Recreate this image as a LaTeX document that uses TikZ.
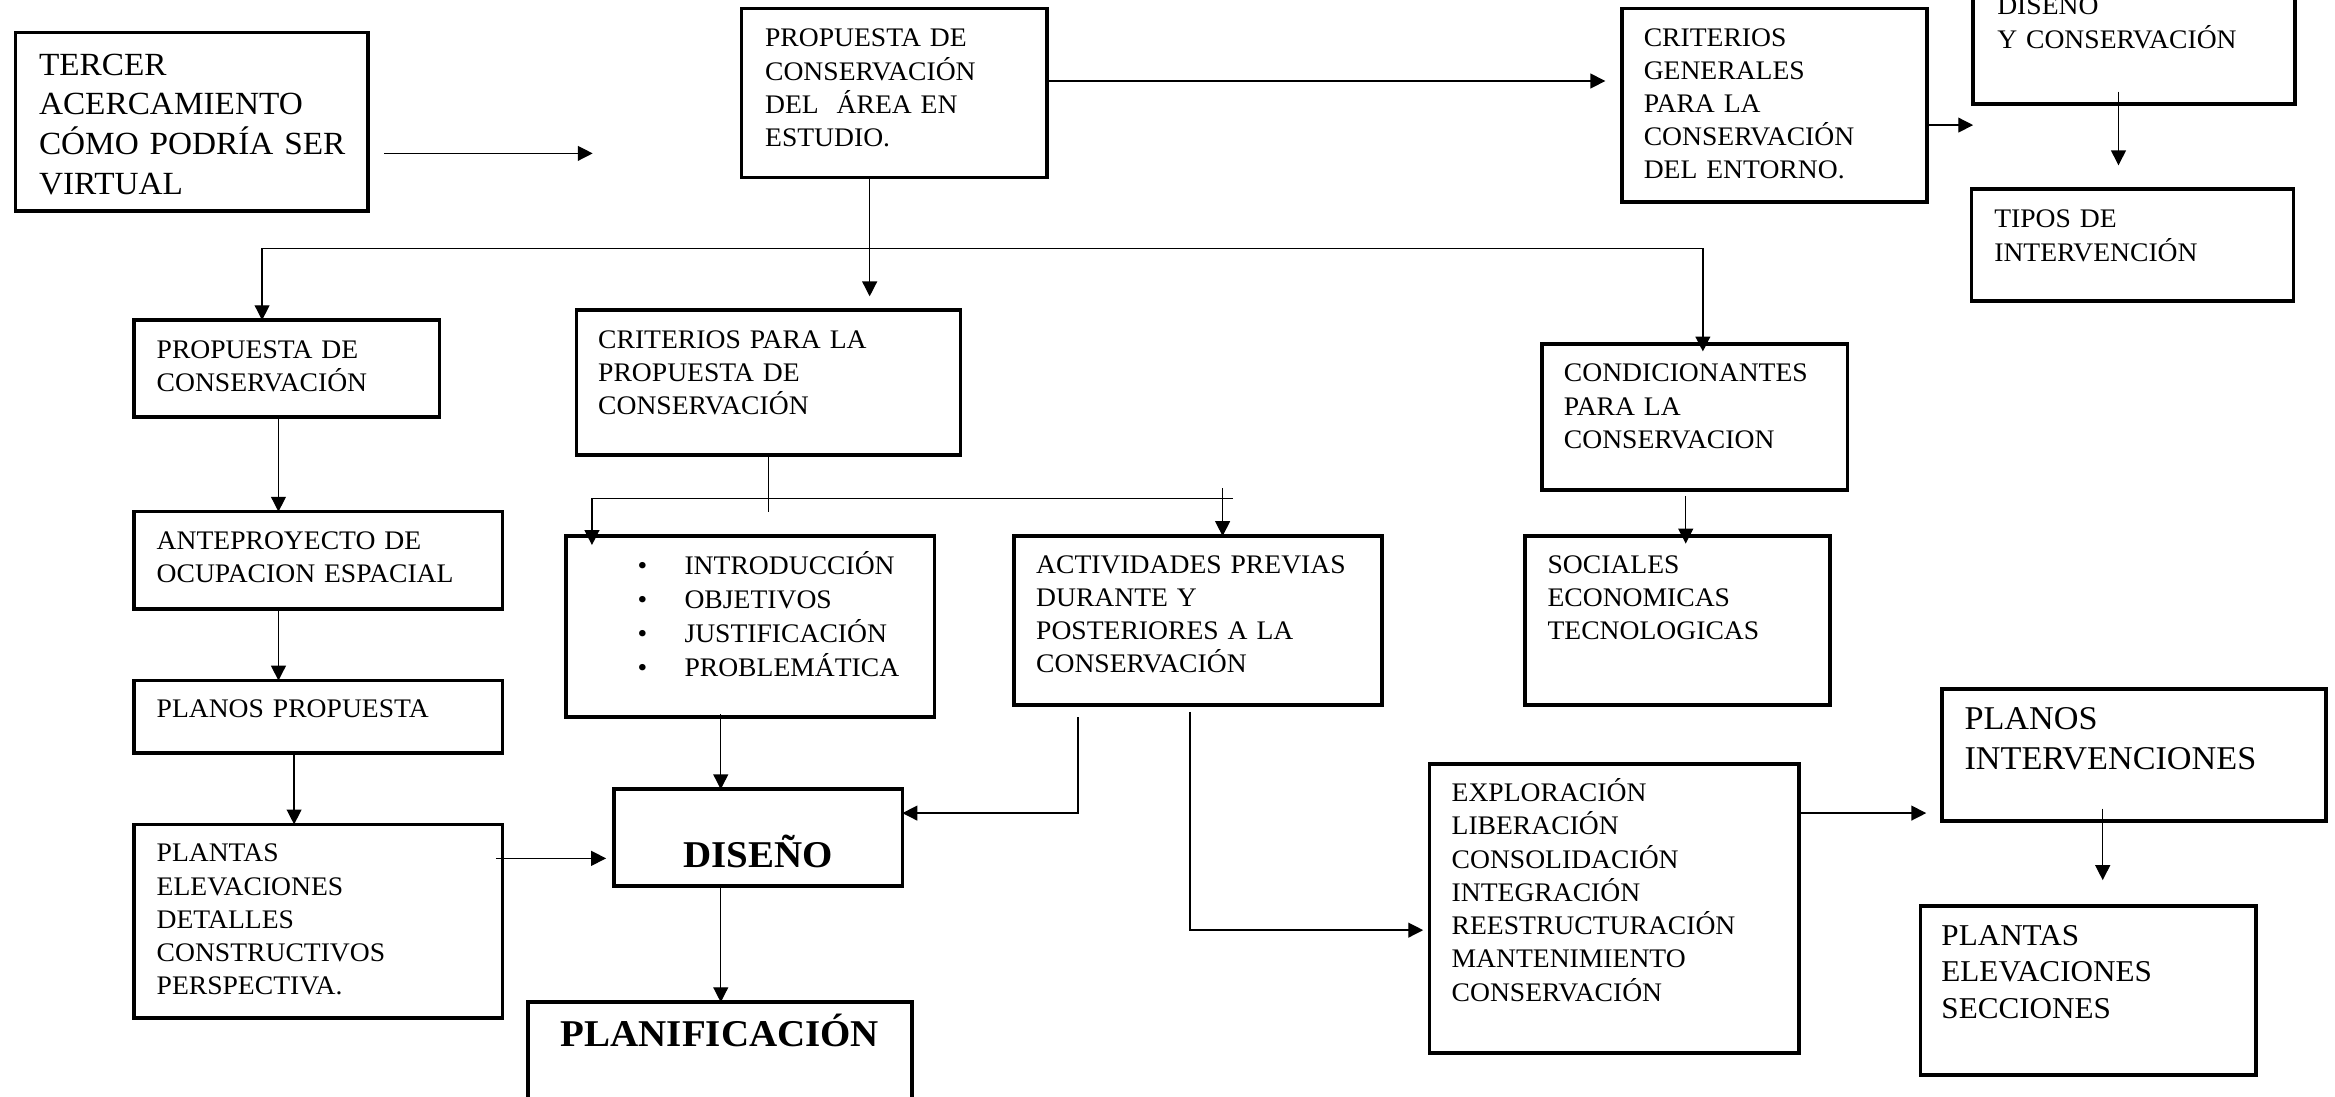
\documentclass[tikz,border=0pt]{standalone}
\usepackage{fontspec}
\setmainfont{Liberation Serif}[FakeStretch=1.03]
\usetikzlibrary{arrows.meta}

\begin{document}
\begin{tikzpicture}[x=1pt,y=-1pt]
          \tikzstyle{blk}=[draw, line width=2.4pt, anchor=north west, inner sep=0pt, outer sep=0pt]
          \tikzstyle{txt}=[anchor=base west, inner sep=0pt, text width=270pt, align=left, font=\fontsize{18}{22.3}\selectfont]
          \tikzstyle{big}=[txt, font=\fontsize{21.7}{26.7}\selectfont]
          \tikzstyle{head}=[anchor=base, inner sep=0pt, font=\bfseries\fontsize{25.4}{30}\selectfont]
          \tikzstyle{link}=[draw, line width=0.9pt]
          \tikzstyle{arr}=[link, -{Triangle[length=10pt,width=10pt]}]
          \useasboundingbox (0,0) rectangle (1568,736);
          \clip (0,0) rectangle (1568,736);
          % boxes
          \node [blk, minimum width=236.6pt, minimum height=120pt] (tercer) at (10.4,21.7) {};
          \node [blk, minimum width=205pt, minimum height=113.7pt] (prop) at (498,5.6) {};
          \node [blk, minimum width=205pt, minimum height=130pt] (critgen) at (1089,5.6) {};
          \node [blk, minimum width=216pt, minimum height=90pt] (discons) at (1325,-20) {};
          \node [blk, minimum width=216pt, minimum height=75pt] (tipos) at (1324,127) {};
          \node [blk, minimum width=205pt, minimum height=65pt] (propcons) at (90,215) {};
          \node [blk, minimum width=258pt, minimum height=97.6pt] (critprop) at (387,208) {};
          \node [blk, minimum width=205pt, minimum height=98pt] (condic) at (1035.6,231) {};
          \node [blk, minimum width=247.5pt, minimum height=65.4pt] (antep) at (90,343.6) {};
          \node [blk, minimum width=247.5pt, minimum height=121.5pt] (lista) at (380,360) {};
          \node [blk, minimum width=247pt, minimum height=113.5pt] (activ) at (681,360) {};
          \node [blk, minimum width=205pt, minimum height=113.5pt] (social) at (1024,360) {};
          \node [blk, minimum width=247.5pt, minimum height=48.6pt] (planprop) at (90,457) {};
          \node [blk, minimum width=247.5pt, minimum height=130pt] (plantas) at (90,553.6) {};
          \node [blk, minimum width=193.5pt, minimum height=65pt] (diseno) at (412.5,530) {};
          \node [blk, minimum width=258pt, minimum height=90pt] (planif) at (354.6,673) {};
          \node [blk, minimum width=248pt, minimum height=194pt] (explor) at (960,513) {};
          \node [blk, minimum width=258pt, minimum height=88.7pt] (planint) at (1304,462.7) {};
          \node [blk, minimum width=225.5pt, minimum height=113.5pt] (plantasb) at (1289.5,608.5) {};
          % texts
          \node [big] (tercer-t) at (26,50.4) {TERCER\\ACERCAMIENTO\\CÓMO PODRÍA SER\\VIRTUAL};
          \node [txt] (prop-t) at (513.6,31.5) {PROPUESTA DE\\CONSERVACIÓN\\DEL\ \ ÁREA EN\\ESTUDIO.};
          \node [txt] (critgen-t) at (1103.6,30.9) {CRITERIOS\\GENERALES\\PARA LA\\CONSERVACIÓN\\DEL ENTORNO.};
          \node [txt] (discons-t) at (1341,10) {DISEÑO\\Y CONSERVACIÓN};
          \node [txt] (tipos-t) at (1339,153) {TIPOS DE\\INTERVENCIÓN};
          \node [txt] (propcons-t) at (105,240.6) {PROPUESTA DE\\CONSERVACIÓN};
          \node [txt] (critprop-t) at (401.5,233.8) {CRITERIOS PARA LA\\PROPUESTA DE\\CONSERVACIÓN};
          \node [txt] (condic-t) at (1050,256.4) {CONDICIONANTES\\PARA LA\\CONSERVACION};
          \node [txt] (antep-t) at (105,368.9) {ANTEPROYECTO DE\\OCUPACION ESPACIAL};
          \node [txt, font=\fontsize{18}{22.8}\selectfont] (lista-t) at (428,386)
            {\makebox[31.5pt][l]{\textbullet}INTRODUCCIÓN\\\makebox[31.5pt][l]{\textbullet}OBJETIVOS\\
             \makebox[31.5pt][l]{\textbullet}JUSTIFICACIÓN\\\makebox[31.5pt][l]{\textbullet}PROBLEMÁTICA};
          \node [txt] (activ-t) at (695.6,385) {ACTIVIDADES PREVIAS\\DURANTE Y\\POSTERIORES A LA\\CONSERVACIÓN};
          \node [txt] (social-t) at (1039,385) {SOCIALES\\ECONOMICAS\\TECNOLOGICAS};
          \node [txt] (planprop-t) at (105,481.7) {PLANOS PROPUESTA};
          \node [txt] (plantas-t) at (105,578.8) {PLANTAS\\ELEVACIONES\\DETALLES\\CONSTRUCTIVOS\\PERSPECTIVA.};
          \node [head] (diseno-t) at (509.2,582.5) {DISEÑO};
          \node [head] (planif-t) at (483.5,703) {PLANIFICACIÓN};
          \node [txt] (explor-t) at (974.6,538.4) {EXPLORACIÓN\\LIBERACIÓN\\CONSOLIDACIÓN\\INTEGRACIÓN\\REESTRUCTURACIÓN\\MANTENIMIENTO\\CONSERVACIÓN};
          \node [txt, font=\fontsize{22.3}{27}\selectfont] (planint-t) at (1319,490) {PLANOS\\INTERVENCIONES};
          \node [txt, font=\fontsize{20.3}{24.6}\selectfont] (plantasb-t) at (1303.5,634.6) {PLANTAS\\ELEVACIONES\\SECCIONES};
          % connectors
          \coordinate (c1) at (258,103);
          \coordinate (c2) at (398,103);
          \coordinate (c3) at (1078,54.4);
          \coordinate (c4) at (1325,84);
          \coordinate (c5) at (1422.6,61.6);
          \coordinate (c6) at (1422.6,111);
          \coordinate (c7) at (584,199);
          \path[arr] (c1) -- (c2);
          \path[arr] (prop.east |- c3) -- (c3);
          \path[arr] (critgen.east |- c4) -- (c4);
          \path[arr] (c5) -- (c6);
          \path[arr] (prop.south -| c7) -- (c7);
          \coordinate (b1) at (176,166.8);
          \coordinate (b2) at (1143.5,166.8);
          \coordinate (b3) at (1143.5,236);
          \path[link] (b1) -- (b2);
          \path[arr] (b1) -- (b1 |- propcons.north);
          \path[arr] (b2) -- (b3);
          \coordinate (f1) at (516,344);
          \coordinate (f2) at (397.5,334.7);
          \coordinate (f3) at (828,334.7);
          \coordinate (f4) at (397.5,366);
          \coordinate (f5) at (821,328);
          \path[link] (critprop.south -| f1) -- (f1);
          \path[link] (f2) -- (f3);
          \path[arr] (f2) -- (f4);
          \path[arr] (f5) -- (f5 |- activ.north);
          \coordinate (s1) at (1132,333);
          \coordinate (s2) at (1132,365);
          \path[arr] (s1) -- (s2);
          \coordinate (l1) at (187,0);
          \coordinate (l2) at (197.5,0);
          \path[arr] (propcons.south -| l1) -- (antep.north -| l1);
          \path[arr] (antep.south -| l1) -- (planprop.north -| l1);
          \path[arr] (planprop.south -| l2) -- (plantas.north -| l2);
          \coordinate (d1) at (333,576.4);
          \coordinate (d2) at (407,576.4);
          \coordinate (d3) at (484,479.5);
          \coordinate (d4) at (724,481.7);
          \coordinate (d5) at (724,546);
          \path[arr] (d1) -- (d2);
          \path[arr] (d3) -- (d3 |- diseno.north);
          \path[arr] (d4) -- (d5) -- (d5 -| diseno.east);
          \path[arr] (diseno.south -| d3) -- (planif.north -| d3);
          \coordinate (e1) at (799,478);
          \coordinate (e2) at (955.7,624.6);
          \coordinate (e3) at (1293.5,546);
          \coordinate (p1) at (1412,543);
          \coordinate (p2) at (1412,591);
          \path[arr] (e1) |- (e2);
          \path[arr] (explor.east |- e3) -- (e3);
          \path[arr] (p1) -- (p2);
\end{tikzpicture}
\end{document}
